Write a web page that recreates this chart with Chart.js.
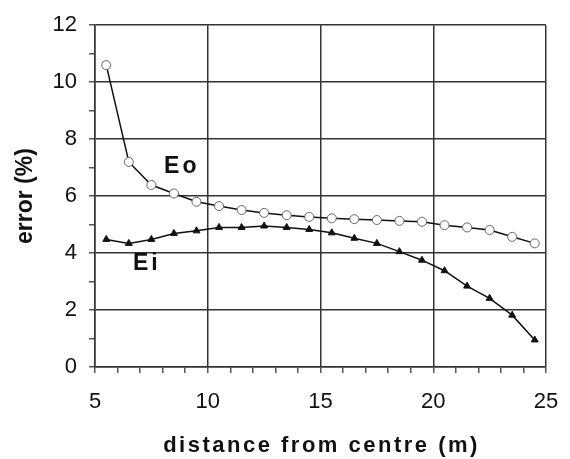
<!DOCTYPE html>
<html>
<head>
<meta charset="utf-8">
<script src="https://cdn.jsdelivr.net/npm/chart.js@4/dist/chart.umd.min.js"></script>
<style>
  html, body { margin: 0; padding: 0; background: #fff; }
</style>
</head>
<body>
<canvas id="myChart" width="570" height="459"></canvas>
<script>
// distance from centre (m)
const distances = [5.5, 6.5, 7.5, 8.5, 9.5, 10.5, 11.5, 12.5, 13.5, 14.5,
  15.5, 16.5, 17.5, 18.5, 19.5, 20.5, 21.5, 22.5, 23.5, 24.5];

// error (%)
const errorEo = [10.6, 7.2, 6.39, 6.09, 5.8, 5.65, 5.51, 5.41, 5.33, 5.27,
  5.22, 5.19, 5.16, 5.13, 5.1, 4.98, 4.9, 4.81, 4.57, 4.34];
const errorEi = [4.48, 4.34, 4.48, 4.69, 4.78, 4.9, 4.9, 4.95, 4.9, 4.83,
  4.71, 4.52, 4.34, 4.05, 3.75, 3.38, 2.84, 2.41, 1.82, 0.95];

const seriesNames = ["Eo", "Ei"];
const xTickLabels = [5, 10, 15, 20, 25];
const yTickLabels = [0, 2, 4, 6, 8, 10, 12];
const xTitle = "distance from centre (m)";
const yTitle = "error (%)";

const dark = "#333";
const font = "'Liberation Sans', Arial, sans-serif";

// Beschriftungen Eo / Ei und x-Achsentitel (mit Sperrung) selbst zeichnen
const extraText = {
  id: "extraText",
  afterDraw(chart) {
    const { ctx, scales, chartArea } = chart;
    const spots = [[8.85, 7.05], [7.3, 3.62]];
    ctx.save();
    ctx.fillStyle = "#111";
    ctx.textAlign = "center";
    ctx.textBaseline = "middle";
    ctx.font = "bold 23px " + font;
    if ("letterSpacing" in ctx) ctx.letterSpacing = "3px";
    seriesNames.forEach((name, i) => {
      ctx.fillText(name, scales.x.getPixelForValue(spots[i][0]), scales.y.getPixelForValue(spots[i][1]));
    });
    ctx.font = "bold 22px " + font;
    if ("letterSpacing" in ctx) ctx.letterSpacing = "2.5px";
    ctx.fillText(xTitle, (chartArea.left + chartArea.right) / 2 + 1, 446);
    ctx.restore();
  },
};

const ctx = document.getElementById("myChart").getContext("2d");
new Chart(ctx, {
  type: "line",
  data: {
    datasets: [
      {
        label: seriesNames[0],
        data: distances.map((d, i) => ({ x: d, y: errorEo[i] })),
        borderColor: "#111",
        borderWidth: 1.5,
        pointStyle: "circle",
        pointRadius: 4.5,
        pointBackgroundColor: "#fff",
        pointBorderColor: "#666",
        pointBorderWidth: 1,
      },
      {
        label: seriesNames[1],
        data: distances.map((d, i) => ({ x: d, y: errorEi[i] })),
        borderColor: "#111",
        borderWidth: 1.5,
        pointStyle: "triangle",
        pointRadius: 4,
        pointBackgroundColor: "#111",
        pointBorderColor: "#111",
        pointBorderWidth: 1,
      },
    ],
  },
  options: {
    responsive: false,
    animation: false,
    layout: { padding: { top: 25, right: 24, left: 0, bottom: 0 } },
    plugins: {
      legend: { display: false },
      tooltip: { enabled: false },
    },
    scales: {
      x: {
        type: "linear",
        min: 5,
        max: 25,
        afterFit: (scale) => {
          scale.height = 92;
          scale.paddingLeft = 0;
          scale.paddingRight = 0;
        },
        ticks: {
          stepSize: 1,
          autoSkip: false,
          maxRotation: 0,
          padding: 16,
          color: "#111",
          font: { family: font, size: 22 },
          callback: (v) => (xTickLabels.includes(v) ? v : ""),
        },
        grid: {
          color: (c) => (c.tick && xTickLabels.includes(c.tick.value) ? dark : "rgba(0,0,0,0)"),
          tickColor: "#555",
          lineWidth: 1.5,
          tickLength: 6,
        },
        border: { color: dark, width: 1.5 },
      },
      y: {
        min: 0,
        max: 12,
        afterFit: (scale) => { scale.width = 95; },
        ticks: {
          stepSize: 1,
          autoSkip: false,
          padding: 12,
          color: "#111",
          font: { family: font, size: 22 },
          callback: (v) => (yTickLabels.includes(v) ? v : ""),
        },
        grid: {
          color: (c) => (c.tick && yTickLabels.includes(c.tick.value) ? dark : "rgba(0,0,0,0)"),
          tickColor: "#555",
          lineWidth: 1.5,
          tickLength: 6,
        },
        border: { color: dark, width: 1.5 },
        title: {
          display: true,
          text: yTitle,
          color: "#111",
          font: { family: font, size: 23, weight: "bold" },
          padding: { top: 12, bottom: 0 },
        },
      },
    },
  },
  plugins: [extraText],
});
</script>
</body>
</html>
